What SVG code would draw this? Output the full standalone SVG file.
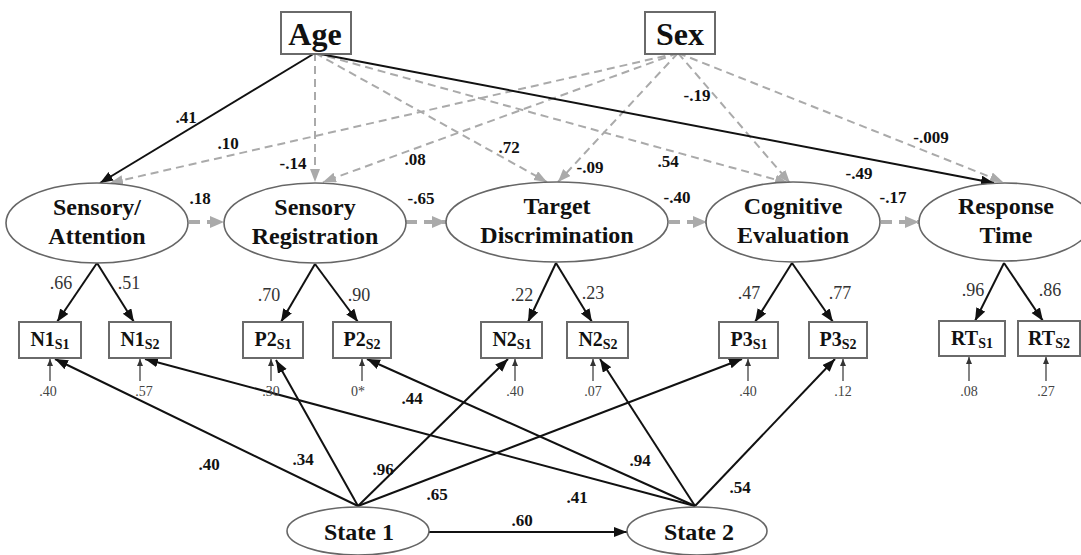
<svg xmlns="http://www.w3.org/2000/svg" width="1081" height="555" viewBox="0 0 1081 555">
<style>
.bg{fill:#fff}
.node{fill:#fff;stroke:#666;stroke-width:1.6}
.box{fill:#fff;stroke:#6a6a6a;stroke-width:2}
.nt{font-family:"Liberation Serif","Times New Roman",serif;font-weight:bold;fill:#111;text-anchor:middle}
.big{font-size:32px}
.lat{font-size:24px}
.ind{font-size:20px}
.sub{font-size:14px}
.pl{font-family:"Liberation Serif","Times New Roman",serif;font-weight:bold;font-size:17px;fill:#111;text-anchor:middle}
.ld{font-family:"Liberation Serif","Times New Roman",serif;font-size:18px;fill:#333;text-anchor:middle}
.er{font-family:"Liberation Serif","Times New Roman",serif;font-size:14px;fill:#444;text-anchor:middle}
.solid{fill:none;stroke:#111;stroke-width:2;marker-end:url(#arrB)}
.dash{fill:none;stroke:#aaa;stroke-width:2;stroke-dasharray:8 5;marker-end:url(#arrG)}
.hd{fill:none;stroke:#aaa;stroke-width:4;stroke-dasharray:11 7;marker-end:url(#arrH)}
.err{fill:none;stroke:#333;stroke-width:1.2;marker-end:url(#arrS)}
</style>
<defs>
<marker id="arrB" markerUnits="userSpaceOnUse" markerWidth="14" markerHeight="11" refX="13" refY="5" orient="auto"><path d="M0,0 L13,5 L0,10 z" fill="#111"/></marker>
<marker id="arrG" markerUnits="userSpaceOnUse" markerWidth="14" markerHeight="11" refX="13" refY="5" orient="auto"><path d="M0,0 L13,5 L0,10 z" fill="#aaa"/></marker>
<marker id="arrH" markerUnits="userSpaceOnUse" markerWidth="15" markerHeight="13" refX="14" refY="6" orient="auto"><path d="M0,0 L14,6 L0,12 z" fill="#aaa"/></marker>
<marker id="arrS" markerUnits="userSpaceOnUse" markerWidth="8" markerHeight="7" refX="7" refY="3" orient="auto"><path d="M0,0 L7,3 L0,6 z" fill="#333"/></marker>
</defs>
<rect class="bg" x="0" y="0" width="1081" height="555"/>

<g id="connectors">
<line class="dash" x1="315" y1="53" x2="315" y2="182"/>
<line class="dash" x1="315" y1="53" x2="547" y2="182"/>
<line class="dash" x1="315" y1="53" x2="788" y2="183"/>
<line class="dash" x1="678" y1="53" x2="110" y2="183"/>
<line class="dash" x1="678" y1="53" x2="323" y2="182"/>
<line class="dash" x1="678" y1="53" x2="558" y2="182"/>
<line class="dash" x1="678" y1="53" x2="790" y2="183"/>
<line class="dash" x1="678" y1="53" x2="1003" y2="182"/>
<line class="solid" x1="315" y1="53" x2="100" y2="183"/>
<line class="solid" x1="315" y1="53" x2="994" y2="183"/>
<line class="hd" x1="189" y1="222" x2="224" y2="222"/>
<line class="hd" x1="406" y1="222" x2="446" y2="222"/>
<line class="hd" x1="669" y1="222" x2="707" y2="222"/>
<line class="hd" x1="881" y1="222" x2="919" y2="222"/>
<line class="solid" x1="97" y1="263" x2="57" y2="322"/>
<line class="solid" x1="97" y1="263" x2="134" y2="322"/>
<line class="solid" x1="315" y1="264" x2="281" y2="322"/>
<line class="solid" x1="315" y1="264" x2="358" y2="322"/>
<line class="solid" x1="556" y1="263" x2="528" y2="322"/>
<line class="solid" x1="556" y1="263" x2="592" y2="322"/>
<line class="solid" x1="792" y1="263" x2="755" y2="322"/>
<line class="solid" x1="792" y1="263" x2="833" y2="322"/>
<line class="solid" x1="1004" y1="263" x2="975" y2="321"/>
<line class="solid" x1="1004" y1="263" x2="1043" y2="321"/>
<line class="err" x1="50" y1="381" x2="50" y2="359"/>
<line class="err" x1="140" y1="381" x2="140" y2="359"/>
<line class="err" x1="271" y1="381" x2="271" y2="359"/>
<line class="err" x1="362" y1="381" x2="362" y2="359"/>
<line class="err" x1="515" y1="381" x2="515" y2="359"/>
<line class="err" x1="593" y1="381" x2="593" y2="359"/>
<line class="err" x1="748" y1="381" x2="748" y2="359"/>
<line class="err" x1="843" y1="381" x2="843" y2="359"/>
<line class="err" x1="969" y1="381" x2="969" y2="357"/>
<line class="err" x1="1046" y1="381" x2="1046" y2="357"/>
<line class="solid" x1="358" y1="506" x2="55" y2="359"/>
<line class="solid" x1="358" y1="506" x2="276" y2="360"/>
<line class="solid" x1="358" y1="506" x2="508" y2="359"/>
<line class="solid" x1="358" y1="506" x2="742" y2="359"/>
<line class="solid" x1="695" y1="506" x2="145" y2="359"/>
<line class="solid" x1="695" y1="506" x2="367" y2="359"/>
<line class="solid" x1="695" y1="506" x2="600" y2="359"/>
<line class="solid" x1="695" y1="506" x2="835" y2="359"/>
<line class="solid" x1="429" y1="532" x2="627" y2="532"/>
</g>

<g id="labels">
<text class="pl" x="186" y="123">.41</text>
<text class="pl" x="228" y="149">.10</text>
<text class="pl" x="293" y="169">-.14</text>
<text class="pl" x="415" y="165">.08</text>
<text class="pl" x="509" y="153">.72</text>
<text class="pl" x="590" y="173">-.09</text>
<text class="pl" x="668" y="167">.54</text>
<text class="pl" x="697" y="101">-.19</text>
<text class="pl" x="859" y="179">-.49</text>
<text class="pl" x="931" y="143">-.009</text>
<text class="pl" x="200" y="204">.18</text>
<text class="pl" x="421" y="204">-.65</text>
<text class="pl" x="677" y="203">-.40</text>
<text class="pl" x="893" y="203">-.17</text>
<text class="ld" x="61" y="289">.66</text>
<text class="ld" x="129" y="289">.51</text>
<text class="ld" x="269" y="301">.70</text>
<text class="ld" x="359" y="301">.90</text>
<text class="ld" x="522" y="301">.22</text>
<text class="ld" x="593" y="299">.23</text>
<text class="ld" x="749" y="299">.47</text>
<text class="ld" x="840" y="299">.77</text>
<text class="ld" x="973" y="296">.96</text>
<text class="ld" x="1050" y="296">.86</text>
<text class="er" x="48" y="396">.40</text>
<text class="er" x="144" y="396">.57</text>
<text class="er" x="271" y="396">.30</text>
<text class="er" x="358" y="396">0*</text>
<text class="er" x="515" y="396">.40</text>
<text class="er" x="593" y="396">.07</text>
<text class="er" x="748" y="396">.40</text>
<text class="er" x="843" y="396">.12</text>
<text class="er" x="969" y="396">.08</text>
<text class="er" x="1046" y="396">.27</text>
<text class="pl" x="209" y="470">.40</text>
<text class="pl" x="303" y="465">.34</text>
<text class="pl" x="383" y="475">.96</text>
<text class="pl" x="437" y="500">.65</text>
<text class="pl" x="412" y="404">.44</text>
<text class="pl" x="522" y="526">.60</text>
<text class="pl" x="640" y="466">.94</text>
<text class="pl" x="577" y="503">.41</text>
<text class="pl" x="740" y="493">.54</text>
</g>

<g id="age"><rect class="box" x="281" y="12" width="70" height="42"/><text class="nt big" x="315" y="45">Age</text></g>
<g id="sex"><rect class="box" x="645" y="12" width="70" height="42"/><text class="nt big" x="680" y="45">Sex</text></g>

<g id="sensory-attention"><ellipse class="node" cx="97" cy="223" rx="91" ry="40"/><text class="nt lat" x="97" y="215">Sensory/</text><text class="nt lat" x="97" y="244">Attention</text></g>
<g id="sensory-registration"><ellipse class="node" cx="315" cy="223" rx="91" ry="40"/><text class="nt lat" x="315" y="215">Sensory</text><text class="nt lat" x="315" y="244">Registration</text></g>
<g id="target-discrimination"><ellipse class="node" cx="557" cy="222" rx="111" ry="40"/><text class="nt lat" x="557" y="214">Target</text><text class="nt lat" x="557" y="243">Discrimination</text></g>
<g id="cognitive-evaluation"><ellipse class="node" cx="793" cy="222" rx="87" ry="40"/><text class="nt lat" x="793" y="214">Cognitive</text><text class="nt lat" x="793" y="243">Evaluation</text></g>
<g id="response-time"><ellipse class="node" cx="1005" cy="222" rx="86" ry="39"/><text class="nt lat" x="1006" y="214">Response</text><text class="nt lat" x="1006" y="243">Time</text></g>

<g id="n1s1"><rect class="box" x="19" y="322" width="62" height="36"/><text class="nt ind" x="50" y="346">N1<tspan class="sub" dy="3">S1</tspan></text></g>
<g id="n1s2"><rect class="box" x="109" y="322" width="62" height="36"/><text class="nt ind" x="140" y="346">N1<tspan class="sub" dy="3">S2</tspan></text></g>
<g id="p2s1"><rect class="box" x="243" y="322" width="60" height="36"/><text class="nt ind" x="273" y="346">P2<tspan class="sub" dy="3">S1</tspan></text></g>
<g id="p2s2"><rect class="box" x="333" y="322" width="58" height="36"/><text class="nt ind" x="362" y="346">P2<tspan class="sub" dy="3">S2</tspan></text></g>
<g id="n2s1"><rect class="box" x="481" y="322" width="61" height="36"/><text class="nt ind" x="512" y="346">N2<tspan class="sub" dy="3">S1</tspan></text></g>
<g id="n2s2"><rect class="box" x="567" y="322" width="61" height="36"/><text class="nt ind" x="598" y="346">N2<tspan class="sub" dy="3">S2</tspan></text></g>
<g id="p3s1"><rect class="box" x="719" y="322" width="59" height="36"/><text class="nt ind" x="749" y="346">P3<tspan class="sub" dy="3">S1</tspan></text></g>
<g id="p3s2"><rect class="box" x="809" y="322" width="58" height="36"/><text class="nt ind" x="838" y="346">P3<tspan class="sub" dy="3">S2</tspan></text></g>
<g id="rts1"><rect class="box" x="939" y="321" width="66" height="35"/><text class="nt ind" x="972" y="345">RT<tspan class="sub" dy="3">S1</tspan></text></g>
<g id="rts2"><rect class="box" x="1018" y="321" width="62" height="35"/><text class="nt ind" x="1049" y="345">RT<tspan class="sub" dy="3">S2</tspan></text></g>

<g id="state1"><ellipse class="node" cx="358" cy="531" rx="71" ry="24"/><text class="nt lat" x="359" y="540">State 1</text></g>
<g id="state2"><ellipse class="node" cx="697" cy="531" rx="70" ry="24"/><text class="nt lat" x="699" y="540">State 2</text></g>
</svg>
